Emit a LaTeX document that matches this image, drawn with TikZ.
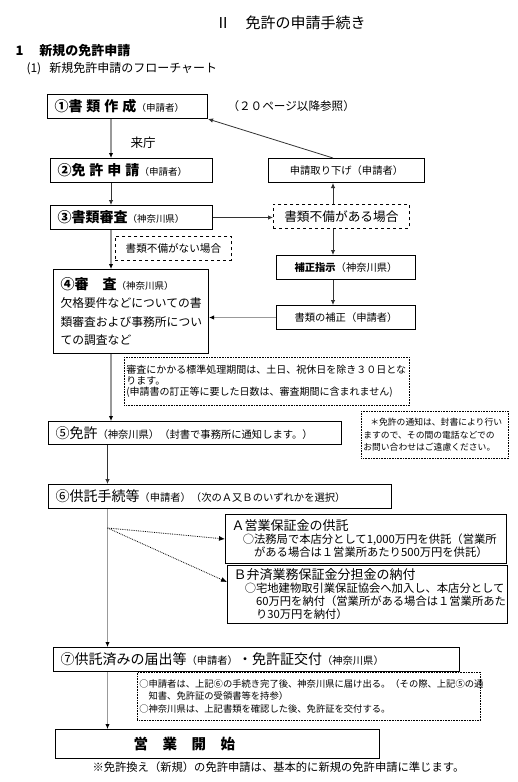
\documentclass[tikz,border=0pt]{standalone}
\usepackage{fontspec}
\setmainfont{Noto Sans CJK JP}
\usetikzlibrary{arrows.meta,calc}

% font sizes (1pt = 1px of the page)
\newcommand\titlesz{\fontsize{15}{17}\selectfont}
\newcommand\headsz{\fontsize{14}{16}\selectfont}
\newcommand\midsz{\fontsize{10.3}{12}\selectfont}
\newcommand\smallsz{\fontsize{9.5}{11}\selectfont}
\newcommand\bodysz{\fontsize{11.8}{18.5}\selectfont}
\newcommand\optsz{\fontsize{11.3}{13}\selectfont}
\newcommand\optheadsz{\fontsize{13}{15}\selectfont}

\begin{document}
\begin{tikzpicture}[x=1pt,y=-1pt,
    flowbox/.style={draw, line width=1pt, anchor=north west, inner xsep=7pt, inner ysep=0pt, align=left},
    dashbox/.style={draw, dashed, line width=0.8pt, anchor=north west, inner sep=0pt, align=center},
    notebox/.style={draw, densely dotted, line width=0.6pt, anchor=north west, inner xsep=2pt, inner ysep=0pt, align=left},
    grayarrow/.style={draw=black!40, line width=1.4pt, -{Latex[length=5pt,width=4.5pt,color=black]}},
    darkarrow/.style={draw=black!80, line width=0.8pt, -{Latex[length=5pt,width=4.5pt]}},
    dotarrow/.style={densely dotted, line width=0.8pt, -{Latex[length=6pt,width=5pt]}}]
    \fill[white] (0,0) rectangle (517,782);

    % Headings
    \node[anchor=west, font=\titlesz] (title) at (212,23) {Ⅱ　免許の申請手続き};
    \node[anchor=west, font=\fontsize{13}{15}\selectfont\bfseries] (section) at (12,51) {1\hspace{16pt}新規の免許申請};
    \node[anchor=west, font=\fontsize{12}{14}\selectfont] (subsection) at (23,69) {(1)\hspace{8pt}新規免許申請のフローチャート};

    % Axes of the arrows
    \coordinate (axisA) at (111,0);
    \coordinate (axisB) at (107.5,0);
    \coordinate (side) at (333,0);

    % Main column
    \node[flowbox, text width=146pt, minimum height=24pt] (sakusei) at (47,94)
        {{\headsz\bfseries ①書\hspace{4pt}類\hspace{4pt}作\hspace{4pt}成}{\smallsz （申請者）}};
    \node[anchor=west, font=\fontsize{11.6}{13}\selectfont] (sanshou) at (224,106) {（２０ページ以降参照）};
    \node[flowbox, text width=148pt, minimum height=24pt] (shinsei) at (50,158)
        {{\headsz\bfseries ②免\hspace{4pt}許\hspace{4pt}申\hspace{4pt}請}{\smallsz （申請者）}};
    \node[flowbox, text width=148pt, minimum height=24pt] (shinsa) at (50,205)
        {{\headsz\bfseries ③書類審査}{\smallsz （神奈川県）}};
    \node[flowbox, text width=141pt, minimum height=84pt, font=\bodysz] (chousa) at (53,269)
        {{\headsz\bfseries ④審　査}{\smallsz （神奈川県）}\\
         欠格要件などについての書\\
         類審査および事務所につい\\
         ての調査など};
    \node[flowbox, text width=279pt, minimum height=23pt] (menkyo) at (48,421)
        {{\headsz ⑤免許}{\midsz （神奈川県）（封書で事務所に通知します。）}};
    \node[flowbox, text width=329pt, minimum height=24pt] (kyotaku) at (48,484)
        {{\headsz ⑥供託手続等}{\midsz （申請者）（次のＡ又Ｂのいずれかを選択）}};
    \node[flowbox, text width=392pt, minimum height=24pt] (todokede) at (53,647)
        {{\headsz ⑦供託済みの届出等}{\midsz （申請者）}{\headsz ・免許証交付}{\midsz （神奈川県）}};
    \node[flowbox, text width=310pt, minimum height=29pt] (kaishi) at (55,729)
        {\hspace*{71pt}{\fontsize{14.5}{16}\selectfont\bfseries 営　業　開　始}};
    \node[anchor=west, font=\fontsize{11.3}{13}\selectfont] (footnote) at (89,767)
        {※免許換え（新規）の免許申請は、基本的に新規の免許申請に準じます。};

    % Right column
    \node[flowbox, inner xsep=0pt, align=center, minimum width=156pt, minimum height=24pt, font=\midsz] (torisage) at (268,158)
        {申請取り下げ（申請者）};
    \node[dashbox, minimum width=136pt, minimum height=24pt, font=\fontsize{12.7}{14}\selectfont] (fubiari) at (273,204)
        {書類不備がある場合};
    \node[dashbox, minimum width=116pt, minimum height=24pt, font=\fontsize{10.6}{12}\selectfont] (fubinashi) at (115,236)
        {書類不備がない場合};
    \node[flowbox, inner xsep=0pt, align=center, minimum width=139pt, minimum height=24pt, font=\midsz] (shiji) at (276,255)
        {{\bfseries 補正指示}（神奈川県）};
    \node[flowbox, inner xsep=0pt, align=center, minimum width=139pt, minimum height=24pt, font=\midsz] (hosei) at (276,305)
        {書類の補正（申請者）};

    % Notes
    \node[notebox, text width=281pt, minimum height=48pt, font=\fontsize{10}{10.8}\selectfont] (kikan) at (124,357)
        {審査にかかる標準処理期間は、土日、祝休日を除き３０日とな\\
         ります。\\
         (申請書の訂正等に要した日数は、審査期間に含まれません)};
    \node[notebox, text width=143pt, minimum height=47pt, font=\fontsize{8.8}{12.5}\selectfont] (tsuuchi) at (361,411)
        {\hspace*{7pt}＊免許の通知は、封書により行い\\
         ますので、その間の電話などでの\\
         お問い合わせはご遠慮ください。};
    \node[notebox, text width=339pt, minimum height=48pt, font=\fontsize{9.3}{12.5}\selectfont] (koufu) at (137,672)
        {○申請者は、上記⑥の手続き完了後、神奈川県に届け出る。（その際、上記⑤の通\\
         \hspace*{1em}知書、免許証の受領書等を持参）\\
         ○神奈川県は、上記書類を確認した後、免許証を交付する。};

    % Options A and B
    \node[flowbox, inner xsep=6pt, text width=269pt, minimum height=49pt, font=\fontsize{11.3}{13}\selectfont] (optA) at (225,514)
        {{\optheadsz Ａ営業保証金の供託}\\
         \hspace*{1em}○法務局で本店分として1,000万円を供託（営業所\\
         \hspace*{2em}がある場合は１営業所あたり500万円を供託）};
    \node[flowbox, inner xsep=6pt, text width=268pt, minimum height=58pt, font=\fontsize{11.3}{13}\selectfont] (optB) at (227,565)
        {{\optheadsz Ｂ弁済業務保証金分担金の納付}\\
         \hspace*{1em}○宅地建物取引業保証協会へ加入し、本店分として\\
         \hspace*{2em}60万円を納付（営業所がある場合は１営業所あた\\
         \hspace*{2em}り30万円を納付）};

    % Arrows
    \draw[grayarrow] (sakusei.south -| axisA) -- (shinsei.north -| axisA);
    \node[anchor=west, font=\fontsize{12.5}{14}\selectfont] (raichou) at (127,143) {来庁};
    \draw[darkarrow] (shinsei.south -| axisA) -- (shinsa.north -| axisA);
    \draw[grayarrow] (shinsa.south -| axisA) -- (chousa.north -| axisA);
    \draw[grayarrow] (chousa.south -| axisA) -- (menkyo.north -| axisA);
    \draw[darkarrow] (menkyo.south -| axisB) -- (kyotaku.north -| axisB);
    \draw[grayarrow] (kyotaku.south -| axisB) -- (todokede.north -| axisB);
    \draw[grayarrow] (todokede.south -| axisB) -- (kaishi.north -| axisB);

    \draw[darkarrow] (shinsa.east) -- (shinsa.east -| fubiari.west);
    \draw[darkarrow] (fubiari.north -| side) -- (torisage.south -| side);
    \draw[darkarrow] (torisage.north -| side) -- (sakusei.south east);
    \draw[darkarrow] (fubiari.south -| side) -- (shiji.north -| side);
    \draw[darkarrow] (shiji.south -| side) -- (hosei.north -| side);
    \draw[grayarrow] (hosei.west) -- (hosei.west -| chousa.east);

    % Choice of A or B
    \coordinate (split) at (107.5,528);
    \draw[dotarrow] (split) -- (optA.west);
    \draw[dotarrow] (split) -- ($(optB.north west)+(0,17)$);
\end{tikzpicture}
\end{document}
